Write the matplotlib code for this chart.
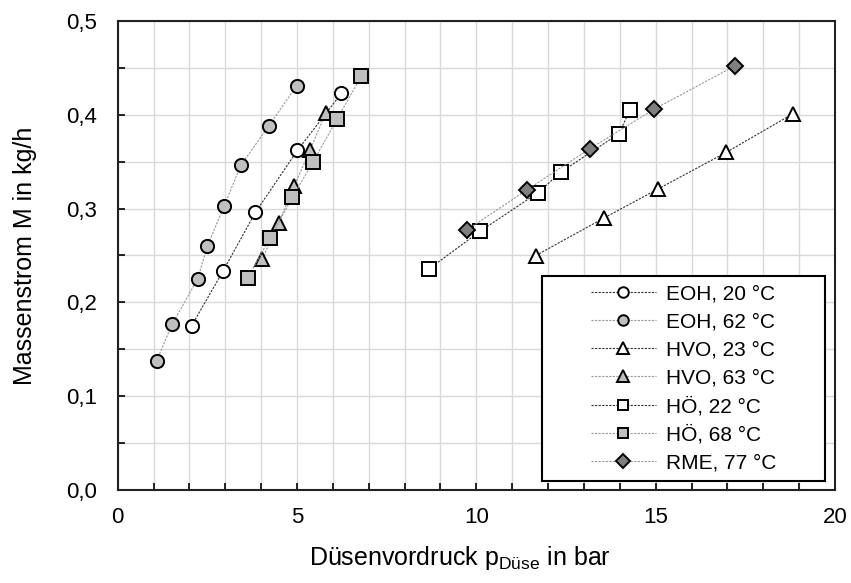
import matplotlib.pyplot as plt
import numpy as np
from matplotlib.ticker import MultipleLocator, FuncFormatter
from matplotlib.patches import Rectangle

plt.rcParams['font.family'] = ['Liberation Sans', 'DejaVu Sans']
plt.rcParams['mathtext.fontset'] = 'custom'
plt.rcParams['mathtext.rm'] = 'Liberation Sans'
plt.rcParams['mathtext.it'] = 'Liberation Sans:italic'

# Messdaten: Düsenvordruck in bar, Massenstrom in kg/h
eoh20_p = [2.06, 2.93, 3.84, 5.01, 6.24]
eoh20_m = [0.175, 0.233, 0.296, 0.362, 0.423]
eoh62_p = [1.09, 1.52, 2.23, 2.50, 2.97, 3.43, 4.21, 4.99]
eoh62_m = [0.138, 0.177, 0.225, 0.260, 0.303, 0.346, 0.388, 0.431]
hvo23_p = [11.66, 13.56, 15.07, 16.97, 18.82]
hvo23_m = [0.250, 0.290, 0.321, 0.360, 0.401]
hvo63_p = [4.03, 4.49, 4.92, 5.37, 5.80]
hvo63_m = [0.246, 0.285, 0.324, 0.363, 0.402]
hoe22_p = [8.69, 10.11, 11.72, 12.36, 13.98, 14.28]
hoe22_m = [0.236, 0.276, 0.317, 0.339, 0.380, 0.405]
hoe68_p = [3.62, 4.25, 4.87, 5.45, 6.11, 6.79]
hoe68_m = [0.226, 0.269, 0.312, 0.350, 0.395, 0.441]
rme77_p = [9.73, 11.41, 13.17, 14.96, 17.20]
rme77_m = [0.277, 0.320, 0.364, 0.406, 0.452]

#%% Reihen: (x, y, Label, Marker, Füllfarbe, Linienfarbe)
reihen = [
    (eoh20_p, eoh20_m, 'EOH, 20 °C', 'o', 'white', '#333333'),
    (eoh62_p, eoh62_m, 'EOH, 62 °C', 'o', '#bfbfbf', '#999999'),
    (hvo23_p, hvo23_m, 'HVO, 23 °C', '^', 'white', '#333333'),
    (hvo63_p, hvo63_m, 'HVO, 63 °C', '^', '#bfbfbf', '#999999'),
    (hoe22_p, hoe22_m, 'HÖ, 22 °C', 's', 'white', '#333333'),
    (hoe68_p, hoe68_m, 'HÖ, 68 °C', 's', '#bfbfbf', '#999999'),
    (rme77_p, rme77_m, 'RME, 77 °C', 'D', '#7f7f7f', '#999999'),
]
groesse = {'o': 9.5, '^': 10, 's': 9.5, 'D': 8.5}

fig = plt.figure(figsize=(8.51, 5.83), dpi=100)
ax = fig.add_axes([117.7 / 851, 1 - 490 / 583, 717.3 / 851, 469 / 583])

for x, y, lab, mk, fc, lc in reihen:
    ax.plot(x, y, linestyle=(0, (2, 1.2)), linewidth=0.8, color=lc,
            marker=mk, markersize=groesse[mk], markerfacecolor=fc,
            markeredgecolor='black', markeredgewidth=1.4, label=lab, zorder=3)

ax.set_xlim(0, 20)
ax.set_ylim(0, 0.5)
ax.xaxis.set_major_locator(MultipleLocator(5))
ax.xaxis.set_minor_locator(MultipleLocator(1))
ax.yaxis.set_major_locator(MultipleLocator(0.1))
ax.yaxis.set_minor_locator(MultipleLocator(0.05))
ax.yaxis.set_major_formatter(FuncFormatter(lambda v, p: f'{v:.1f}'.replace('.', ',')))
ax.xaxis.set_major_formatter(FuncFormatter(lambda v, p: f'{v:.0f}'))

ax.grid(which='both', color='#d9d9d9', linewidth=1.0, zorder=0)
ax.set_axisbelow(True)
ax.tick_params(which='both', direction='in', length=5, width=1.2, labelsize=16)
ax.tick_params(axis='x', pad=12)
ax.tick_params(axis='y', pad=15)
for s in ax.spines.values():
    s.set_linewidth(1.5)
    s.set_color('#222222')

ax.set_xlabel('Düsenvordruck p$_{\\mathrm{Düse}}$ in bar', fontsize=18)
ax.set_ylabel('Massenstrom M in kg/h', fontsize=18)
ax.xaxis.set_label_coords(0.477, -0.115)
ax.yaxis.set_label_coords(-0.113, 0.5)

# Legende mit eigenem Rahmen
ax.add_patch(Rectangle((0.5915, 0.019), 0.3945, 0.437, transform=ax.transAxes,
                       facecolor='white', edgecolor='black', linewidth=1.5, zorder=4))
leg = ax.legend(loc='center', bbox_to_anchor=(0.789, 0.2375), frameon=False,
                fontsize=15, handlelength=3.1, handletextpad=0.5,
                labelspacing=0.43, markerscale=0.8)
leg.set_zorder(5)

fig.savefig('out.png', dpi=100)
